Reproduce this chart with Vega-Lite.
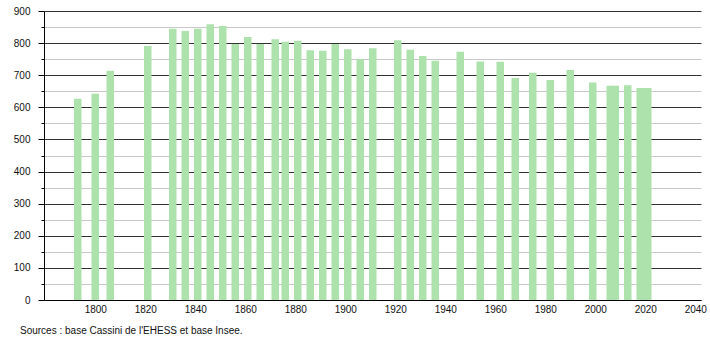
{
  "$schema": "https://vega.github.io/schema/vega-lite/v6.json",
  "width": 657,
  "height": 289,
  "autosize": "none",
  "padding": {"left": 44, "top": 11, "right": 9, "bottom": 40},
  "background": "white",
  "config": {"view": {"stroke": null}, "font": "Liberation Sans"},
  "title": {"text": "Sources : base Cassini de l'EHESS et base Insee.", "orient": "bottom", "anchor": "start", "frame": "group", "dx": -24, "offset": 12, "fontSize": 10, "fontWeight": "normal", "font": "Liberation Sans", "color": "#111"},
  "data": {"values": [
    {"annee": 1793, "population": 627},
    {"annee": 1800, "population": 642},
    {"annee": 1806, "population": 714},
    {"annee": 1821, "population": 791},
    {"annee": 1831, "population": 845},
    {"annee": 1836, "population": 838},
    {"annee": 1841, "population": 845},
    {"annee": 1846, "population": 859},
    {"annee": 1851, "population": 853},
    {"annee": 1856, "population": 797},
    {"annee": 1861, "population": 819},
    {"annee": 1866, "population": 797},
    {"annee": 1872, "population": 812},
    {"annee": 1876, "population": 804},
    {"annee": 1881, "population": 807},
    {"annee": 1886, "population": 778},
    {"annee": 1891, "population": 776},
    {"annee": 1896, "population": 797},
    {"annee": 1901, "population": 781},
    {"annee": 1906, "population": 750},
    {"annee": 1911, "population": 784},
    {"annee": 1921, "population": 809},
    {"annee": 1926, "population": 779},
    {"annee": 1931, "population": 760},
    {"annee": 1936, "population": 745},
    {"annee": 1946, "population": 773},
    {"annee": 1954, "population": 743},
    {"annee": 1962, "population": 742},
    {"annee": 1968, "population": 691},
    {"annee": 1975, "population": 708},
    {"annee": 1982, "population": 685},
    {"annee": 1990, "population": 716},
    {"annee": 1999, "population": 677},
    {"annee": 2006, "population": 667},
    {"annee": 2008, "population": 667},
    {"annee": 2013, "population": 669},
    {"annee": 2018, "population": 660},
    {"annee": 2021, "population": 660}
  ]},
  "mark": {"type": "bar", "width": 7.5, "color": "#ade2ad"},
  "encoding": {
    "x": {
      "field": "annee", "type": "quantitative",
      "scale": {"domain": [1779.5, 2042.3], "nice": false, "zero": false, "padding": 0},
      "axis": {"values": [1800, 1820, 1840, 1860, 1880, 1900, 1920, 1940, 1960, 1980, 2000, 2020, 2040], "format": "d", "title": null, "grid": false, "ticks": false, "labelFlush": false, "labelPadding": 4, "labelFontSize": 10, "labelColor": "#111", "domainColor": "#000", "domainWidth": 1, "labelFont": "Liberation Sans"}
    },
    "y": {
      "field": "population", "type": "quantitative",
      "scale": {"domain": [0, 900], "nice": false, "padding": 0},
      "axis": {
        "values": [0, 50, 100, 150, 200, 250, 300, 350, 400, 450, 500, 550, 600, 650, 700, 750, 800, 850, 900],
        "title": null,
        "labelExpr": "datum.value % 100 === 0 ? datum.label : ''",
        "grid": true,
        "gridColor": {"condition": {"test": "datum.value % 100 === 0", "value": "#333333"}, "value": "#c8c8c8"},
        "gridOpacity": 1,
        "tickColor": "#000",
        "tickSize": {"condition": {"test": "datum.value % 100 === 0", "value": 6}, "value": 3},
        "labelPadding": 8,
        "labelFontSize": 10,
        "labelColor": "#111",
        "labelFont": "Liberation Sans",
        "domainColor": "#000",
        "labelOverlap": false
      }
    }
  }
}
